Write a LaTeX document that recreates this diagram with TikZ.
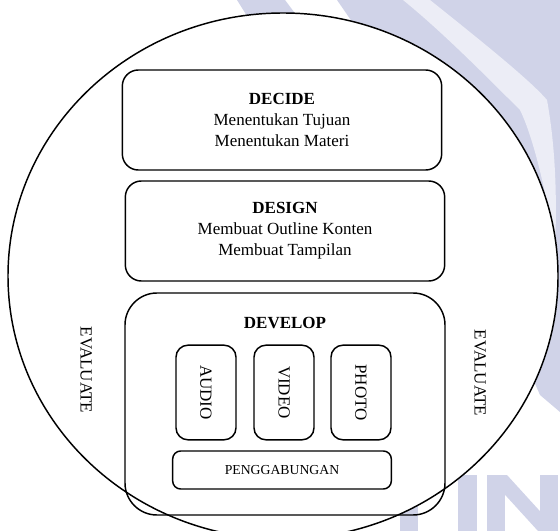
\documentclass[tikz,border=0pt]{standalone}
\usepackage{fontspec}
\setmainfont{Liberation Serif}
\usetikzlibrary{positioning, shapes}
\definecolor{wmark}{RGB}{208,211,232}

\begin{document}
\begin{tikzpicture}[x=0.75pt,y=-0.75pt,
  font=\fontsize{12.75}{15.75}\selectfont,
  stage/.style={draw, line width=1.1pt, rounded corners=12pt, align=center,
    minimum width=239.5pt, minimum height=75pt},
  media/.style={draw, line width=1.1pt, rounded corners=9pt, rotate=-90,
    minimum width=71pt, minimum height=45pt},
  evalnode/.style={rotate=-90}]
\useasboundingbox (0,0) rectangle (560,531);
\clip (0,0) rectangle (560,531);
% faint watermark behind the cycle
\fill[wmark] (237,0) -- (285,0) -- (315,40) -- (262,40) -- cycle;
\fill[wmark] (337,0) -- (560,0) -- (560,412) -- (540,395) -- (420,120) -- cycle;
\fill[white!60!wmark] (403,0) -- (430,0) .. controls (480,40) and (530,80) .. (547,100)
  .. controls (556,150) and (557,200) .. (555,250)
  .. controls (545,180) and (530,130) .. (520,110) .. controls (480,70) and (440,30) .. cycle;
\fill[wmark] (400,495) rectangle (418,531);
\fill[wmark] (458,475) rectangle (477,531);
\fill[wmark] (487,475) rectangle (505,531);
\fill[wmark] (540,475) rectangle (558,531);
\fill[wmark] (487,475) -- (507,475) -- (558,531) -- (538,531) -- cycle;
% the cycle
\node[ellipse, draw, fill=white, line width=1.1pt, inner sep=0pt,
  minimum width=412.5pt, minimum height=394.5pt] (cycle) at (283,276) {};
\node[stage] (decide) at (282,120)
  {\textbf{DECIDE}\\Menentukan Tujuan\\Menentukan Materi};
\node[stage] (design) at (285,231)
  {\textbf{DESIGN}\\Membuat Outline Konten\\Membuat Tampilan};
\node[draw, line width=1.1pt, rounded corners=24pt,
  minimum width=240pt, minimum height=166.5pt] (develop) at (285,404) {};
\node[font=\fontsize{12.75}{15.75}\selectfont\bfseries] (devtitle) at (285,323) {DEVELOP};
\node[media] (audio) at (206,392.5) {AUDIO};
\node[media] (video) at (284,392.5) {VIDEO};
\node[media] (photo) at (361,392.5) {PHOTO};
\node[draw, line width=1.1pt, rounded corners=6pt, minimum width=164pt,
  minimum height=28.5pt, font=\fontsize{10.3}{12}\selectfont] (merge) at (282,470) {PENGGABUNGAN};
\node[evalnode] (evalleft) at (86,370) {EVALUATE};
\node[evalnode] (evalright) at (480,373) {EVALUATE};
\end{tikzpicture}
\end{document}
